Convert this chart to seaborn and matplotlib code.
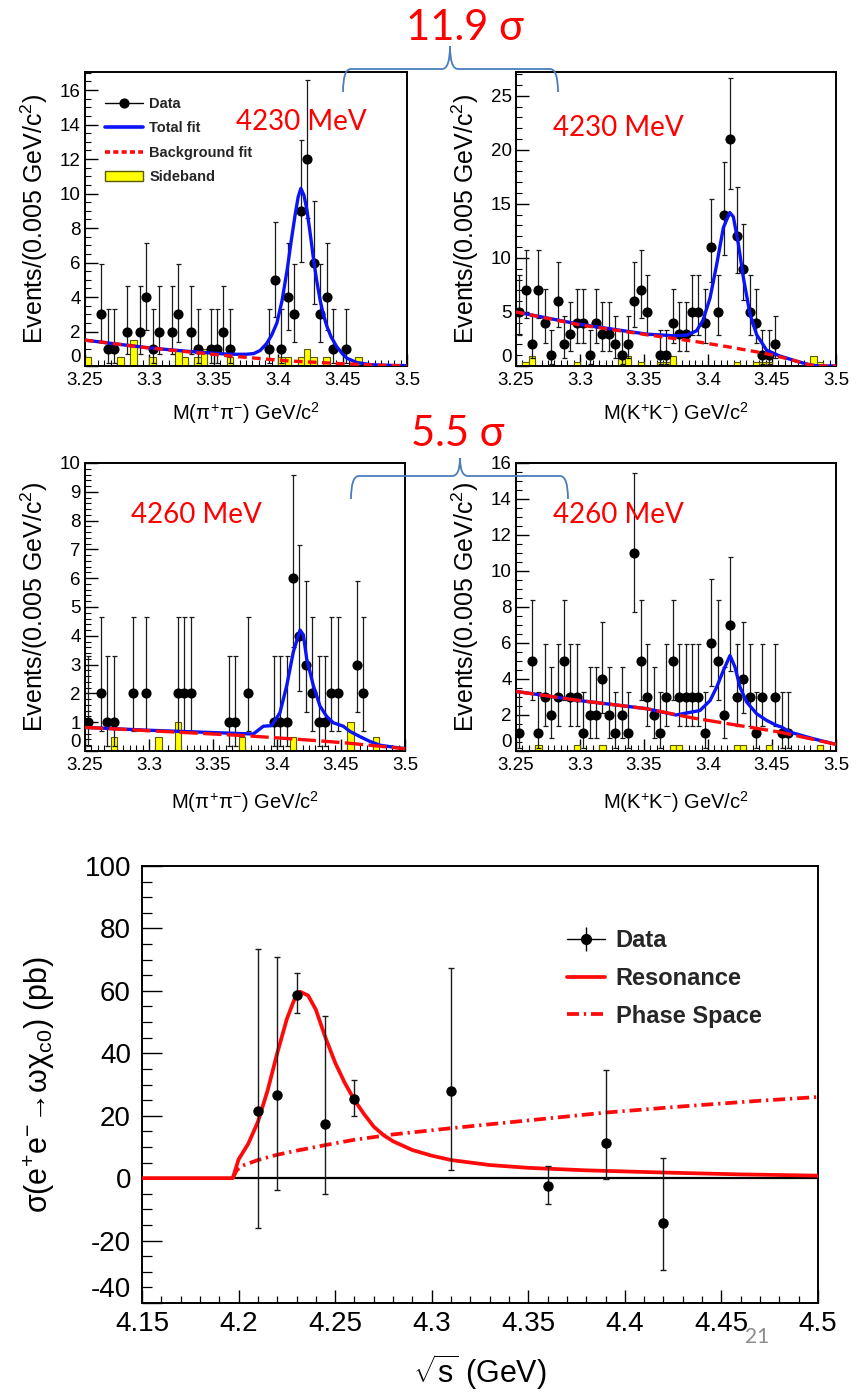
import numpy as np
import matplotlib
matplotlib.use("Agg")
import matplotlib.pyplot as plt
import seaborn as sns
from matplotlib.lines import Line2D
from matplotlib.patches import Patch, PathPatch
from matplotlib.path import Path
from matplotlib.ticker import MultipleLocator

# ----------------------------------------------------------------- data ----
# 50 bins of 0.005 GeV between 3.25 and 3.50 GeV/c^2
bin_lo, bin_hi, bin_w = 3.25, 3.50, 0.005
mass_ticks = [3.25, 3.30, 3.35, 3.40, 3.45, 3.50]
mass_tick_labels = ["3.25", "3.3", "3.35", "3.4", "3.45", "3.5"]
tl_yticks = [0, 2, 4, 6, 8, 10, 12, 14, 16]
tr_yticks = [0, 5, 10, 15, 20, 25]
ml_yticks = [0, 1, 2, 3, 4, 5, 6, 7, 8, 9, 10]
mr_yticks = [0, 2, 4, 6, 8, 10, 12, 14, 16]

# Poisson (68%) error interval per observed count, as drawn
poisson_lo = {1: 0.173, 2: 0.708, 3: 1.37, 4: 2.09, 5: 2.84, 6: 3.62, 7: 4.42,
              9: 6.06, 11: 7.73, 12: 8.58, 14: 10.3, 21: 16.4}
poisson_hi = {1: 3.30, 2: 4.64, 3: 5.92, 4: 7.16, 5: 8.38, 6: 9.58, 7: 10.77,
              9: 13.11, 11: 15.42, 12: 16.56, 14: 18.83, 21: 26.65}

# 4230 MeV, pi+ pi-
tl_counts = [0, 0, 3, 1, 1, 0, 2, 0, 2, 4, 1, 2, 0, 2, 3, 0, 2, 1, 0, 1,
             1, 2, 1, 0, 0, 0, 0, 0, 1, 5, 1, 4, 3, 9, 12, 6, 3, 4, 1, 0,
             1, 0, 0, 0, 0, 0, 0, 0, 0, 0]
tl_side = [0.5, 0, 0, 0, 0, 0.5, 0, 1.5, 0, 0, 0.5, 0, 0, 0, 1.0, 0.5, 0, 0.5, 1.0, 0,
           0, 0, 0.5, 0, 0, 0, 0, 0, 0, 0, 0.5, 0.5, 0, 0.5, 1.0, 0.5, 0, 0.5, 0, 0,
           0, 0, 0.5, 0, 0, 0, 0, 0, 0, 0]
tl_fit_m = [3.25, 3.275, 3.30, 3.325, 3.35, 3.363, 3.375, 3.381, 3.386, 3.391, 3.395,
            3.399, 3.403, 3.407, 3.410, 3.413, 3.4155, 3.4176, 3.420, 3.4223, 3.425,
            3.4275, 3.430, 3.4326, 3.435, 3.4378, 3.441, 3.4456, 3.450, 3.4534,
            3.4611, 3.4715, 3.48, 3.49, 3.5]
tl_fit_v = [1.5, 1.27, 1.05, 0.88, 0.74, 0.68, 0.68, 0.72, 0.9, 1.3, 1.8, 2.5, 3.8,
            5.6, 7.2, 8.7, 9.8, 10.3, 9.9, 9.05, 7.6, 6.15, 4.9, 3.8, 3.0, 2.3, 1.7,
            1.1, 0.7, 0.45, 0.2, 0.08, 0.05, 0.03, 0.02]
tl_bkg_m = [3.25, 3.298, 3.3627, 3.4067, 3.4456, 3.4793, 3.5]
tl_bkg_v = [1.5, 1.06, 0.58, 0.3, 0.15, 0.04, 0.0]

# 4230 MeV, K+ K-
tr_counts = [5, 7, 2, 7, 4, 1, 6, 2, 3, 4, 4, 1, 4, 3, 3, 2, 1, 2, 6, 7,
             5, 0, 1, 1, 4, 3, 3, 5, 5, 4, 11, 5, 14, 21, 12, 9, 5, 4, 1, 1,
             2, 0, 0, 0, 0, 0, 0, 0, 0, 0]
tr_side = [0, 0.4, 0.9, 0, 0, 0, 0, 0, 0, 0.4, 0, 0, 0, 0, 0, 0, 0.9, 0.9, 0, 0.4,
           0, 0, 0.4, 0.4, 0.9, 0, 0, 0, 0, 0, 0, 0, 0, 0, 0.4, 0, 0, 0.4, 0.4, 0.4,
           0, 0, 0, 0, 0, 0, 0.9, 0.4, 0, 0]
tr_fit_m = [3.25, 3.30, 3.352, 3.373, 3.383, 3.391, 3.396, 3.4016, 3.4068, 3.412,
            3.417, 3.4198, 3.4237, 3.4276, 3.4328, 3.438, 3.4458, 3.456, 3.469,
            3.4797, 3.485, 3.5]
tr_fit_v = [5.0, 3.85, 2.95, 2.8, 2.85, 3.25, 4.2, 6.3, 9.4, 12.8, 14.2, 13.8, 11.3,
            8.2, 4.8, 2.9, 1.46, 0.93, 0.45, 0.1, 0.02, 0.0]
tr_bkg_m = [3.25, 3.30, 3.352, 3.391, 3.417, 3.443, 3.456, 3.469, 3.4797, 3.485, 3.5]
tr_bkg_v = [5.0, 3.8, 2.9, 2.25, 1.75, 1.2, 0.85, 0.45, 0.1, 0.0, 0.0]

# 4260 MeV, pi+ pi-
ml_counts = [1, 0, 2, 1, 1, 0, 0, 2, 0, 2, 0, 0, 0, 0, 2, 2, 2, 0, 0, 0,
             0, 0, 1, 1, 0, 2, 0, 0, 0, 1, 1, 1, 6, 4, 3, 2, 1, 1, 2, 2,
             0, 0, 3, 2, 0, 0, 0, 0, 0, 0]
ml_side = [0, 0, 0, 0, 0.5, 0, 0, 0, 0, 0, 0, 0.5, 0, 0, 1.0, 0, 0, 0, 0, 0,
           0, 0, 0, 0, 0.5, 0, 0, 0, 0, 0, 0, 0, 0.5, 0, 0, 0, 0, 0, 0, 0,
           0, 1.0, 0, 0, 0, 0.5, 0, 0, 0, 0]
ml_fit_m = [3.25, 3.30, 3.35, 3.3815, 3.3893, 3.3958, 3.4023, 3.4076, 3.4128, 3.418,
            3.4206, 3.4232, 3.4284, 3.4336, 3.4388, 3.444, 3.4518, 3.457, 3.4648,
            3.4727, 3.4805, 3.4883, 3.5]
ml_fit_v = [0.82, 0.72, 0.64, 0.59, 0.86, 0.88, 1.33, 2.27, 3.45, 4.2, 4.03, 3.2,
            2.27, 1.56, 1.2, 0.98, 0.86, 0.68, 0.5, 0.33, 0.2, 0.15, 0.08]
ml_bkg_m = [3.25, 3.376, 3.428, 3.454, 3.5]
ml_bkg_v = [0.82, 0.53, 0.37, 0.28, 0.08]

# 4260 MeV, K+ K-
mr_counts = [1, 0, 5, 1, 3, 2, 3, 5, 3, 3, 1, 2, 2, 4, 2, 1, 2, 1, 11, 5,
             3, 2, 1, 3, 5, 3, 3, 3, 3, 1, 6, 5, 2, 7, 3, 4, 3, 1, 3, 0,
             3, 1, 1, 0, 0, 0, 0, 0, 0, 0]
mr_side = [0, 0, 0, 0.35, 0, 0, 0, 0, 0, 0.35, 0, 0, 0, 0.35, 0, 0, 0, 0, 0, 0,
           0, 0, 0, 0, 0.35, 0.35, 0, 0, 0, 0, 0, 0, 0, 0, 0.35, 0.35, 0, 0, 0, 0.35,
           0, 0, 0, 0, 0, 0, 0, 0.35, 0, 0]
mr_fit_m = [3.25, 3.30, 3.352, 3.375, 3.3937, 3.4016, 3.4068, 3.412, 3.4172, 3.4211,
            3.425, 3.4302, 3.438, 3.4458, 3.4536, 3.4575, 3.464, 3.4823, 3.5]
mr_fit_v = [3.31, 2.8, 2.35, 2.0, 2.25, 2.8, 3.55, 4.47, 5.3, 4.66, 3.55, 2.72, 2.07,
            1.7, 1.42, 1.33, 1.05, 0.68, 0.37]
mr_bkg_m = [3.25, 3.30, 3.352, 3.387, 3.417, 3.456, 3.5]
mr_bkg_v = [3.31, 2.8, 2.35, 1.85, 1.5, 1.05, 0.37]

# cross section e+e- -> omega chi_c0
sqrt_s = [4.21, 4.22, 4.23, 4.245, 4.26, 4.31, 4.36, 4.39, 4.42]
sigma = [21.5, 26.5, 58.7, 17.5, 25.3, 28.0, -2.6, 11.2, -14.4]
sigma_lo = [-16.0, -3.8, 52.8, -5.0, 20.0, 2.6, -8.3, -0.3, -29.3]
sigma_hi = [73.4, 71.0, 65.6, 52.0, 31.3, 67.2, 4.0, 34.5, 6.5]
res_x = [4.15, 4.197, 4.200, 4.205, 4.21, 4.215, 4.22, 4.225, 4.23, 4.232, 4.236,
         4.24, 4.245, 4.25, 4.255, 4.26, 4.265, 4.27, 4.275, 4.28, 4.29, 4.30,
         4.31, 4.33, 4.35, 4.38, 4.42, 4.46, 4.5]
res_y = [0, 0, 6, 11, 18, 28, 40, 51, 59, 59.7, 58.5, 54, 45, 37, 30.5, 25, 20.5,
         16.5, 13.8, 11.8, 9.0, 7.2, 5.8, 4.2, 3.3, 2.5, 1.8, 1.2, 0.8]
ps_x = [4.197, 4.199, 4.202, 4.21, 4.22, 4.23, 4.245, 4.26, 4.28, 4.31, 4.35,
        4.39, 4.43, 4.47, 4.5]
ps_y = [0.0, 2.5, 4.0, 5.8, 7.5, 8.8, 10.6, 12.3, 14.0, 16.0, 18.5, 21.0, 23.0,
        24.8, 26.0]
s_ticks = [4.15, 4.2, 4.25, 4.3, 4.35, 4.4, 4.45, 4.5]
s_tick_labels = ["4.15", "4.2", "4.25", "4.3", "4.35", "4.4", "4.45", "4.5"]
sig_ticks = [-40, -20, 0, 20, 40, 60, 80, 100]
sig_tick_labels = ["-40", "-20", "0", "20", "40", "60", "80", "100"]

# ---------------------------------------------------------------- style ----
sns.set_theme(style="ticks")
plt.rcParams["font.family"] = ["Liberation Sans", "DejaVu Sans"]
plt.rcParams["mathtext.fontset"] = "custom"
plt.rcParams["mathtext.rm"] = "Liberation Sans"
plt.rcParams["mathtext.it"] = "Liberation Sans"
plt.rcParams["mathtext.bf"] = "Liberation Sans:bold"
plt.rcParams["axes.unicode_minus"] = False

BLUE = "#0a14f5"
RED = "#ff0a0a"
SLIDE = ["Lato", "DejaVu Sans"]

W, H = 856, 1393
fig = plt.figure(figsize=(W / 100, H / 100), dpi=100)
fig.patch.set_facecolor("white")


def px_axes(l, t, r, b):
    return fig.add_axes([l / W, 1 - b / H, (r - l) / W, (b - t) / H])


def fpos(x, y):
    return x / W, 1 - y / H


def frame(ax):
    ax.set_facecolor("white")
    ax.grid(False)
    for s in ax.spines.values():
        s.set_visible(True)
        s.set_color("black")
        s.set_linewidth(1.4)


centers = np.round(bin_lo + bin_w * (np.arange(50) + 0.5), 4)


def hist_panel(ax, counts, side, fit_m, fit_v, bkg_m, bkg_v, ymax, yticks, yminor,
               dash, xlabel, xlab_y):
    frame(ax)
    counts = np.asarray(counts)
    side = np.asarray(side, float)
    s = side > 0
    ax.bar(centers[s], side[s], width=bin_w, color="#ffff00", edgecolor="#5a5a00",
           linewidth=0.8, zorder=1)
    m = counts > 0
    n = counts[m]
    lo = np.array([poisson_lo[k] for k in n])
    hi = np.array([poisson_hi[k] for k in n])
    ax.errorbar(centers[m], n, yerr=[n - lo, hi - n], fmt="o", ms=6.3, mfc="black",
                mec="black", ecolor="#1a1a1a", elinewidth=0.9, capsize=1.8,
                capthick=0.9, zorder=2)
    sns.lineplot(x=fit_m, y=fit_v, ax=ax, color=BLUE, lw=2.4, estimator=None,
                 sort=False, zorder=3)
    sns.lineplot(x=bkg_m, y=bkg_v, ax=ax, color=RED, lw=2.4, linestyle=(0, dash),
                 estimator=None, sort=False, zorder=4)
    ax.set_xlim(bin_lo, bin_hi)
    ax.set_ylim(0, ymax)
    ax.set_xticks(mass_ticks)
    ax.set_xticklabels(mass_tick_labels)
    ax.set_yticks(yticks)
    ax.set_yticklabels([str(v) for v in yticks])
    ax.xaxis.set_minor_locator(MultipleLocator(0.005))
    ax.yaxis.set_minor_locator(MultipleLocator(yminor))
    ax.tick_params(which="both", direction="in", top=False, right=False,
                   labelsize=13.5, pad=3, color="black", labelcolor="black")
    ax.tick_params(axis="x", which="major", pad=4)
    ax.tick_params(which="major", length=9, width=1.0)
    ax.tick_params(which="minor", length=4.5, width=0.8)
    # the "0" label sits just above the corner, clear of the "3.25" label
    ax.yaxis.get_major_ticks()[0].label1.set_verticalalignment("bottom")
    ax.set_ylabel(r"Events/(0.005 GeV/c$^{2}$)", fontsize=18, color="black")
    ax.yaxis.set_label_coords(-0.158, 0.5)
    ax.yaxis.label.set_va("center")
    ax.set_xlabel(xlabel, fontsize=14.5, color="black")
    ax.xaxis.set_label_coords(0.5, xlab_y)
    ax.xaxis.label.set_va("center")


LAB_PIPI = r"M($\pi^{+}\pi^{-}$) GeV/c$^{2}$"
LAB_KK = r"M(K$^{+}$K$^{-}$) GeV/c$^{2}$"

ax_tl = px_axes(85, 72, 407, 366)
hist_panel(ax_tl, tl_counts, tl_side, tl_fit_m, tl_fit_v, tl_bkg_m, tl_bkg_v,
           17.05, tl_yticks, 0.5, (2.6, 1.6), LAB_PIPI, -47 / 294)
ax_tr = px_axes(516, 72, 836, 366)
hist_panel(ax_tr, tr_counts, tr_side, tr_fit_m, tr_fit_v, tr_bkg_m, tr_bkg_v,
           27.2, tr_yticks, 1, (2.6, 1.6), LAB_KK, -47 / 294)
ax_ml = px_axes(85, 463, 405, 751)
hist_panel(ax_ml, ml_counts, ml_side, ml_fit_m, ml_fit_v, ml_bkg_m, ml_bkg_v,
           10, ml_yticks, 0.2, (5.5, 1.6), LAB_PIPI, -51 / 288)
ax_mr = px_axes(516, 463, 836, 751)
hist_panel(ax_mr, mr_counts, mr_side, mr_fit_m, mr_fit_v, mr_bkg_m, mr_bkg_v,
           16, mr_yticks, 0.5, (5.5, 1.6), LAB_KK, -51 / 288)

# legend of the first panel
leg_h = [Line2D([], [], color="black", marker="o", ms=6.3, lw=1.0),
         Line2D([], [], color=BLUE, lw=2.6),
         Line2D([], [], color=RED, lw=2.6, linestyle=(0, (1.4, 0.9))),
         Patch(facecolor="#ffff00", edgecolor="#5a5a00", linewidth=1.0)]
ax_tl.legend(leg_h, ["Data", "Total fit", "Background fit", "Sideband"],
             loc="upper left", bbox_to_anchor=(0.062, 0.915), frameon=False,
             prop=dict(weight="bold", size=10.5), handlelength=2.6,
             handletextpad=0.45, labelspacing=0.72, borderpad=0, borderaxespad=0)

# ------------------------------------------------------- bottom panel ----
bx = px_axes(142, 866, 818, 1303)
frame(bx)
bx.axhline(0, color="black", lw=1.6, zorder=1)
sns.lineplot(x=res_x, y=res_y, ax=bx, color=RED, lw=2.7, estimator=None, sort=False,
             zorder=3)
sns.lineplot(x=ps_x, y=ps_y, ax=bx, color=RED, lw=2.7,
             linestyle=(0, (3.2, 1.3, 0.6, 1.3)), estimator=None, sort=False, zorder=3)
ss = np.asarray(sqrt_s)
sg = np.asarray(sigma)
bx.errorbar(ss, sg, yerr=[sg - np.asarray(sigma_lo), np.asarray(sigma_hi) - sg],
            fmt="o", ms=6.5, mfc="black", mec="black", ecolor="#1a1a1a",
            elinewidth=1.0, capsize=2.2, capthick=1.0, zorder=5)
bx.set_xlim(4.15, 4.5)
bx.set_ylim(-40, 100)
bx.set_xticks(s_ticks)
bx.set_xticklabels(s_tick_labels)
bx.set_yticks(sig_ticks)
bx.set_yticklabels(sig_tick_labels)
bx.xaxis.set_minor_locator(MultipleLocator(0.01))
bx.yaxis.set_minor_locator(MultipleLocator(5))
bx.tick_params(which="both", direction="in", top=False, right=False, labelsize=20,
               color="black", labelcolor="black")
bx.tick_params(axis="y", which="major", length=14.5, width=1.0, pad=8)
bx.tick_params(axis="y", which="minor", length=7.2, width=0.9)
bx.tick_params(axis="x", which="major", length=9.5, width=1.0, pad=6)
bx.tick_params(axis="x", which="minor", length=5, width=0.9)
# "-40" sits just above the corner, as in the original
bx.yaxis.get_major_ticks()[0].label1.set_verticalalignment("bottom")
bx.set_ylabel(r"σ(e$^{+}$e$^{-}$→ωχ$_{c0}$) (pb)", fontsize=22, color="black")
bx.yaxis.set_label_coords(-0.152, 0.5)
bx.yaxis.label.set_va("center")
bx.set_xlabel(r"$\sqrt{s}$ (GeV)", fontsize=22, color="black")
bx.xaxis.set_label_coords(0.5, -0.158)
bx.xaxis.label.set_va("center")

data_handle = (Line2D([], [], color="black", lw=1.0),
               Line2D([], [], color="black", marker="|", ms=17, mew=1.0, ls="none"),
               Line2D([], [], color="black", marker="o", ms=7, ls="none"))
bx.legend([data_handle, Line2D([], [], color=RED, lw=2.7),
           Line2D([], [], color=RED, lw=2.7, linestyle=(0, (3.2, 1.3, 0.6, 1.3)))],
          ["Data", "Resonance", "Phase Space"], loc="upper left",
          bbox_to_anchor=(0.629, 0.855), frameon=False,
          prop=dict(weight="bold", size=17), handlelength=1.6, handletextpad=0.45,
          labelspacing=0.62, borderpad=0, borderaxespad=0)

# ------------------------------------------------------ slide annotations ----
def brace(x0, x1, xm, ybar, yend, ytip, r=8):
    V = [(x0, yend), (x0, ybar), (x0 + r, ybar), (xm - r, ybar), (xm, ybar), (xm, ytip),
         (xm, ytip), (xm, ybar), (xm + r, ybar), (x1 - r, ybar), (x1, ybar), (x1, yend)]
    C = [Path.MOVETO, Path.CURVE3, Path.CURVE3, Path.LINETO, Path.CURVE3, Path.CURVE3,
         Path.MOVETO, Path.CURVE3, Path.CURVE3, Path.LINETO, Path.CURVE3, Path.CURVE3]
    verts = [fpos(x, y) for x, y in V]
    fig.add_artist(PathPatch(Path(verts, C), transform=fig.transFigure, fill=False,
                             edgecolor="#4a7ebb", lw=1.3, zorder=6))


brace(343, 558, 450, 69, 92, 46)
brace(351, 568, 460, 476, 499, 458)

fig.text(*fpos(465, 28), "11.9 σ", color="red", fontsize=30, ha="center",
         va="center", family=SLIDE)
fig.text(*fpos(458, 434), "5.5 σ", color="red", fontsize=30, ha="center",
         va="center", family=SLIDE)
for (x, y, s) in [(301, 122, "4230 MeV"), (618, 128, "4230 MeV"),
                  (196, 515, "4260 MeV"), (618, 515, "4260 MeV")]:
    fig.text(*fpos(x, y), s, color="red", fontsize=20, ha="center", va="center",
             family=SLIDE, zorder=7)
fig.text(*fpos(757, 1337), "21", color="#8c8c8c", fontsize=15, ha="center",
         va="center", family=SLIDE)

fig.savefig("out.png", dpi=100, facecolor="white")
